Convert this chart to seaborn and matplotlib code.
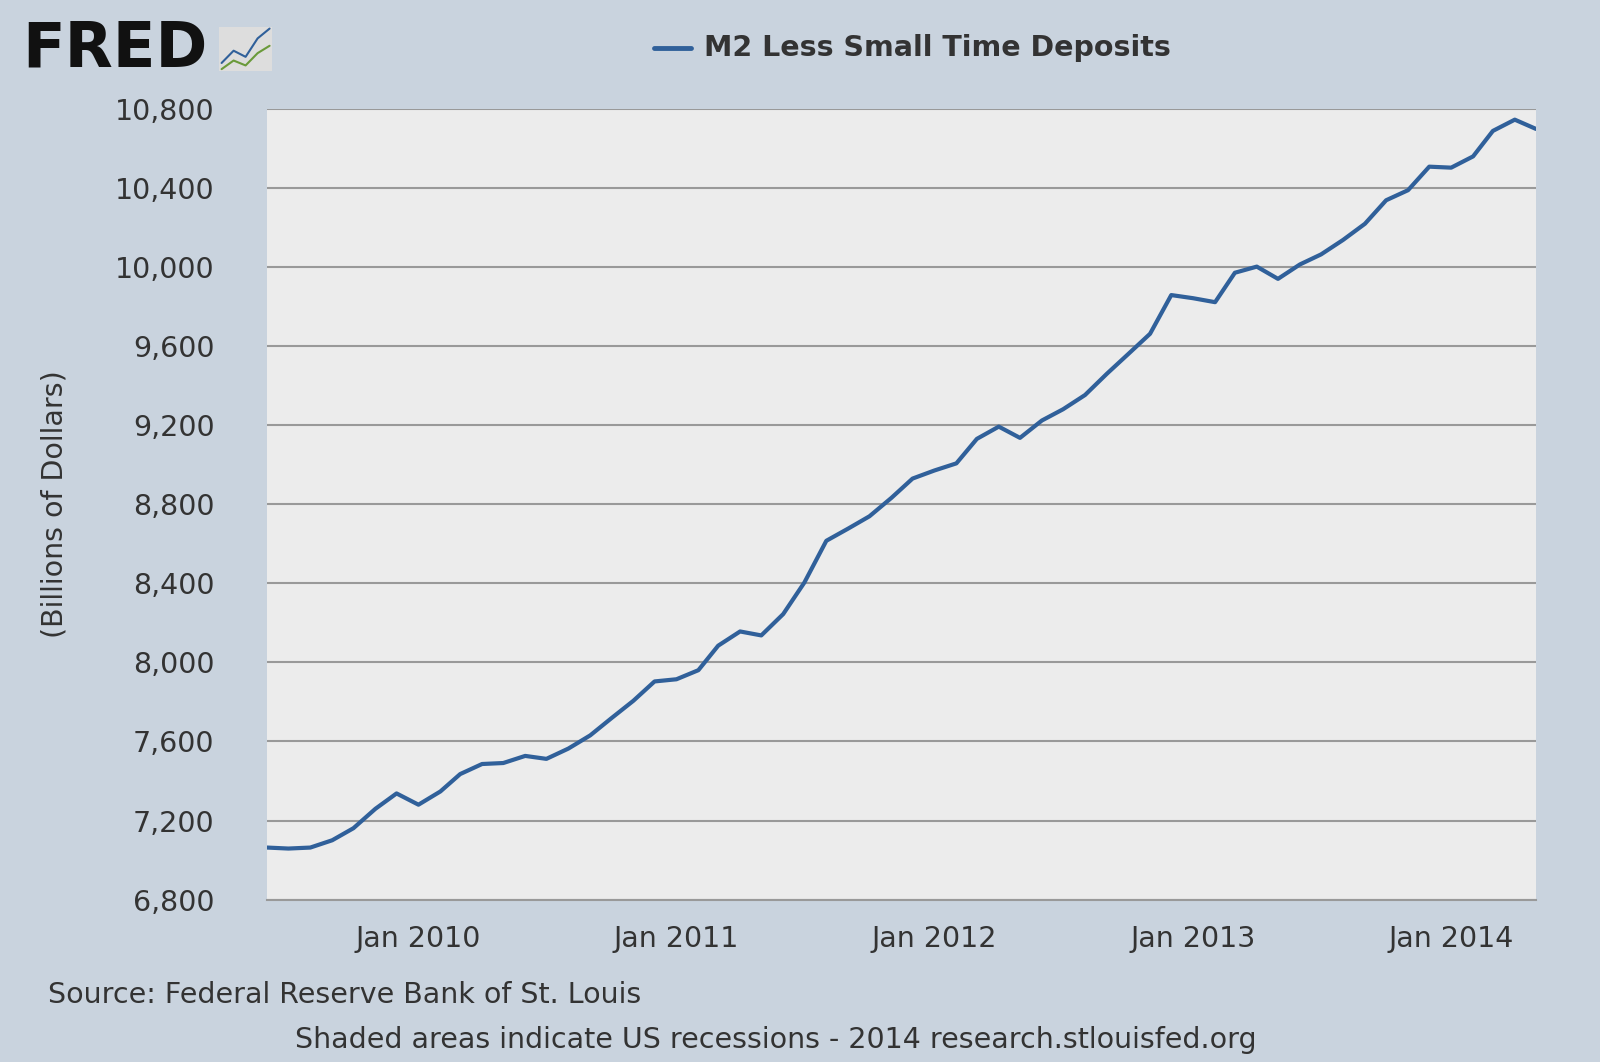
import numpy as np
import pandas as pd
import matplotlib
matplotlib.use("Agg")
import matplotlib.pyplot as plt
import matplotlib.dates as mdates
import seaborn as sns

# Monthly values, Jun 2009 .. May 2014 (billions of dollars)
months = pd.date_range("2009-06-01", "2014-05-01", freq="MS")
m2_less_small_time = [
    7063, 7058, 7063, 7100, 7161, 7259, 7337, 7280, 7347, 7435,
    7486, 7491, 7527, 7512, 7564, 7631, 7718, 7806, 7904, 7915,
    7961, 8085, 8157, 8137, 8245, 8405, 8616, 8678, 8740, 8833,
    8931, 8972, 9008, 9132, 9194, 9137, 9225, 9282, 9354, 9462,
    9561, 9664, 9860, 9844, 9824, 9973, 10004, 9942, 10015, 10066,
    10139, 10221, 10340, 10391, 10510, 10505, 10562, 10691, 10748, 10701,
]
y_ticks = list(range(6800, 10801, 400))
x_ticks = ["2010-01-01", "2011-01-01", "2012-01-01", "2013-01-01", "2014-01-01"]

df = pd.DataFrame({"date": months, "value": m2_less_small_time})

sns.set_style("white")
plt.rcParams["font.family"] = ["DejaVu Sans"]

fs = 20.5
bg = "#c9d3de"
fig = plt.figure(figsize=(16, 10.62), dpi=100, facecolor=bg)
ax = fig.add_axes([0.167, 0.153, 0.793, 0.744])
ax.set_facecolor("#ececec")

sns.lineplot(data=df, x="date", y="value", ax=ax, color="#30609a", linewidth=3)

ax.set_ylim(6800, 10800)
ax.set_xlim(months[0], months[-1])
ax.set_yticks(y_ticks)
ax.set_yticklabels([f"{v:,}" for v in y_ticks], fontsize=fs, color="#333333")
ax.set_xticks(pd.to_datetime(x_ticks))
ax.xaxis.set_major_formatter(mdates.DateFormatter("Jan %Y"))
ax.tick_params(axis="x", labelsize=fs, colors="#333333", length=10, width=1.5, direction="out", pad=8)
ax.tick_params(axis="y", length=0, pad=38)
ax.grid(axis="y", color="#999999", linewidth=1.5)
ax.set_axisbelow(True)
for s in ["top", "right", "left"]:
    ax.spines[s].set_visible(False)
ax.spines["bottom"].set_color("#999999")
ax.spines["bottom"].set_linewidth(1.5)
ax.set_xlabel("")
ax.set_ylabel("")
fig.text(0.034, 0.525, "(Billions of Dollars)", fontsize=fs, color="#333333",
         rotation=90, va="center", ha="center")

# legend at top
fig.lines.append(plt.Line2D([0.409, 0.432], [0.955, 0.955], transform=fig.transFigure,
                            color="#30609a", linewidth=3.5))
fig.text(0.440, 0.955, "M2 Less Small Time Deposits", fontsize=fs, fontweight="bold",
         color="#333333", va="center")

# FRED logo
fig.text(0.014, 0.953, "FRED", fontsize=45, fontweight="bold", color="#111111", va="center")
icon = fig.add_axes([0.137, 0.933, 0.033, 0.042])
icon.set_facecolor("#dddddd")
icon.plot([0, 1, 2, 3, 4], [1, 2, 1.5, 3, 3.8], color="#30609a", linewidth=1.5)
icon.plot([0, 1, 2, 3, 4], [0.5, 1.2, 0.8, 1.8, 2.4], color="#6a9a3a", linewidth=1.5)
icon.set_xticks([]); icon.set_yticks([])
for s in icon.spines.values():
    s.set_visible(False)

fig.text(0.030, 0.063, "Source: Federal Reserve Bank of St. Louis", fontsize=fs, color="#333333", va="center")
fig.text(0.485, 0.021, "Shaded areas indicate US recessions - 2014 research.stlouisfed.org",
         fontsize=fs, color="#333333", va="center", ha="center")

fig.savefig("out.png", dpi=100, facecolor=bg)
